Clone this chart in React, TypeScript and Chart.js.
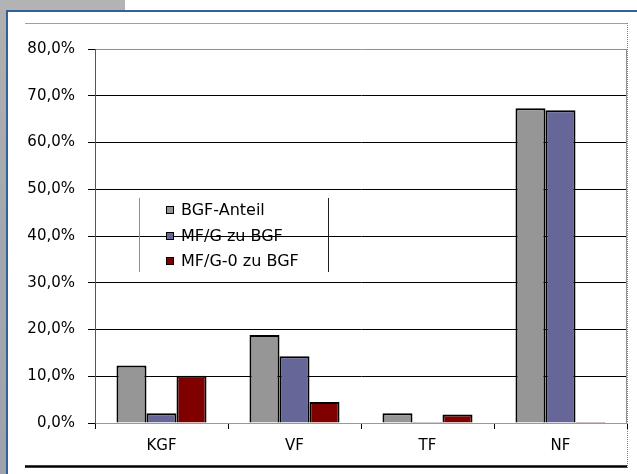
import React, { useEffect, useRef } from "react";
import { Chart, registerables } from "chart.js";

Chart.register(...registerables);

const categories = ["KGF", "VF", "TF", "NF"];
const seriesNames = ["BGF-Anteil", "MF/G zu BGF", "MF/G-0 zu BGF"];
const bgfAnteil = [12.3, 18.8, 2.1, 67.3];
const mfgZuBgf = [2.1, 14.3, 0.2, 66.9];
const mfg0ZuBgf = [10.1, 4.5, 1.8, 0.2];
const seriesColors = ["#969696", "#666699", "#800000"];
const yTicks = [0, 10, 20, 30, 40, 50, 60, 70, 80];

const fmt = (v: number) => v.toFixed(1).replace(".", ",") + "%";

const decoPlugin = {
  id: "deco",
  beforeDraw(chart: any) {
    const ctx = chart.ctx;
    ctx.save();
    ctx.fillStyle = "#ffffff";
    ctx.fillRect(0, 0, chart.width, chart.height);
    const g = ctx.createLinearGradient(0, 0, 0, chart.height);
    g.addColorStop(0, "#b0b0b0");
    g.addColorStop(0.5, "#a4a8ae");
    g.addColorStop(1, "#9ea3ab");
    ctx.fillStyle = g;
    ctx.fillRect(0, 0, 7, chart.height);
    ctx.fillStyle = "#b3b3b3";
    ctx.fillRect(0, 0, 125, 10);
    ctx.strokeStyle = "#34609a";
    ctx.lineWidth = 2;
    ctx.strokeRect(7, 11, chart.width + 10, chart.height + 10);
    ctx.lineWidth = 1;
    ctx.strokeStyle = "#a0a0a0";
    ctx.beginPath();
    ctx.moveTo(25, 23.5);
    ctx.lineTo(627, 23.5);
    ctx.stroke();
    ctx.strokeStyle = "#808080";
    ctx.setLineDash([1, 1]);
    ctx.beginPath();
    ctx.moveTo(627.5, 23);
    ctx.lineTo(627.5, 468);
    ctx.stroke();
    ctx.setLineDash([]);
    ctx.strokeStyle = "#000000";
    ctx.lineWidth = 2.5;
    ctx.beginPath();
    ctx.moveTo(25, 466.5);
    ctx.lineTo(627, 466.5);
    ctx.stroke();
    ctx.restore();
  },
  afterDraw(chart: any) {
    const ctx = chart.ctx;
    const a = chart.chartArea;
    ctx.save();
    ctx.strokeStyle = "#909090";
    ctx.lineWidth = 1;
    ctx.beginPath();
    ctx.moveTo(Math.round(a.right) - 0.5, a.top);
    ctx.lineTo(Math.round(a.right) - 0.5, a.bottom);
    ctx.stroke();
    ctx.strokeStyle = "#909090";
    ctx.beginPath();
    ctx.moveTo(139.5, 198);
    ctx.lineTo(139.5, 272);
    ctx.stroke();
    ctx.strokeStyle = "#202020";
    ctx.beginPath();
    ctx.moveTo(328.5, 198);
    ctx.lineTo(328.5, 272);
    ctx.stroke();
    ctx.font = "16px 'DejaVu Sans', Verdana, sans-serif";
    ctx.textBaseline = "middle";
    ctx.textAlign = "left";
    const ys = [210, 236, 261];
    seriesNames.forEach((name, i) => {
      ctx.fillStyle = seriesColors[i];
      ctx.fillRect(166, ys[i] - 4, 8, 8);
      ctx.strokeStyle = "#000";
      ctx.lineWidth = 1;
      ctx.strokeRect(166.5, ys[i] - 3.5, 7, 7);
      ctx.fillStyle = "#000";
      ctx.fillText(name, 181, ys[i] + 1);
    });
    ctx.restore();
  },
};

export default function App() {
  const ref = useRef<HTMLCanvasElement>(null);
  useEffect(() => {
    if (!ref.current) return;
    const datasets = [bgfAnteil, mfgZuBgf, mfg0ZuBgf].map((d, i) => ({
      label: seriesNames[i],
      data: d,
      backgroundColor: seriesColors[i],
      borderColor: "#000000",
      borderWidth: 2,
      categoryPercentage: 0.677,
      barPercentage: 1,
    }));
    const chart = new Chart(ref.current, {
      type: "bar",
      data: { labels: categories, datasets },
      options: {
        animation: false,
        responsive: false,
        layout: { padding: { left: 0, top: 49, right: 10, bottom: 0 } },
        plugins: { legend: { display: false }, tooltip: { enabled: false } },
        scales: {
          x: {
            afterFit: (s: any) => {
              s.height = 51;
            },
            grid: {
              display: true,
              drawOnChartArea: false,
              drawTicks: true,
              tickLength: 6,
              offset: true,
              color: "#000000",
            },
            border: { display: true, color: "#999999", width: 1 },
            ticks: {
              color: "#000000",
              padding: 8,
              font: { family: "'DejaVu Sans', Verdana, sans-serif", size: 15 },
            },
          },
          y: {
            min: 0,
            max: 80,
            afterFit: (s: any) => {
              s.width = 95;
            },
            afterBuildTicks: (s: any) => {
              s.ticks = yTicks.map((v) => ({ value: v }));
            },
            grid: {
              color: (c: any) => (c.tick && c.tick.value === 80 ? "#909090" : c.tick && c.tick.value === 0 ? "#999999" : "#000000"),
              tickColor: "#000000",
              tickLength: 7,
              drawTicks: true,
            },
            border: { display: true, color: "#555555", width: 1 },
            ticks: {
              color: "#000000",
              padding: 13,
              callback: (v: any) => fmt(Number(v)),
              font: { family: "'DejaVu Sans', Verdana, sans-serif", size: 15 },
            },
          },
        },
      },
      plugins: [decoPlugin],
    });
    return () => chart.destroy();
  }, []);
  return (
    <div style={{ position: "fixed", left: 0, top: 0, width: 637, height: 474 }}>
      <canvas ref={ref} width={637} height={474} style={{ width: 637, height: 474, display: "block" }} />
    </div>
  );
}
